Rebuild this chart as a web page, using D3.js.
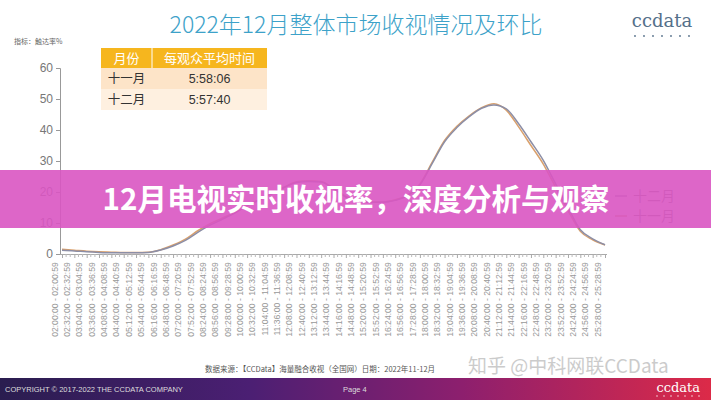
<!DOCTYPE html>
<html><head><meta charset="utf-8">
<script src="https://cdn.jsdelivr.net/npm/d3@7"></script>
<style>body{margin:0;background:#fff}svg{display:block}</style>
</head><body>
<script>
const categories = ["02:00","02:32","03:04","03:36","04:08","04:40","05:12","05:44","06:16","06:48","07:20","07:52","08:24","08:56","09:28","10:00","10:32","11:04","11:36","12:08","12:40","13:12","13:44","14:16","14:48","15:20","15:52","16:24","16:56","17:28","18:00","18:32","19:04","19:36","20:08","20:40","21:12","21:44","22:16","22:48","23:20","23:52","24:24","24:56","25:28"];
const novValues = [1.5,1.2,0.9,0.7,0.6,0.5,0.5,0.6,1.4,2.9,4.8,7.5,9.8,11.6,13.5,15.8,17.6,19.6,21.6,23.3,23.6,23.4,21.2,18.6,17.3,16.8,16.8,17.5,19.0,22.6,29.6,36.6,41.2,44.6,47.2,48.5,46.4,41.0,35.0,29.0,21.5,14.0,7.3,4.6,2.9];
const decValues = [1.2,1.0,0.7,0.5,0.4,0.4,0.4,0.5,1.3,2.6,4.4,7.0,9.3,11.2,13.2,15.5,17.4,19.4,21.4,23.1,23.4,23.2,21.0,18.4,17.2,16.7,16.7,17.3,18.8,22.3,29.2,36.2,40.8,44.3,47.0,48.1,46.8,42.0,36.2,30.2,22.6,15.0,7.8,4.9,3.0];
const yTicks = [0,10,20,30,40,50,60];
const tableRows = [["十一月","5:58:06"],["十二月","5:57:40"]];
const legendItems = [["十二月","#8c8ea6"],["十一月","#d9a06c"]];

const tickLabels = categories.map(c => `${c}:00 - ${c}:59`);

const W=711,H=400;
const svg=d3.select("body").append("svg").attr("width",W).attr("height",H)
  .style("font-family","'Liberation Sans',Arial,sans-serif");

// title
svg.append("text").attr("x",356).attr("y",33).attr("text-anchor","middle")
  .attr("font-family","'Noto Sans CJK SC',sans-serif").attr("font-weight",300)
  .attr("font-size",23).attr("fill","#3da2c9").text("2022年12月整体市场收视情况及环比");
svg.append("text").attr("x",14).attr("y",44).attr("font-size",7).attr("fill","#666")
  .attr("font-family","'Noto Sans CJK SC',sans-serif").text("指标：触达率%");
// logo
svg.append("text").attr("x",662).attr("y",27).attr("text-anchor","middle")
  .attr("font-family","'DejaVu Serif',serif").attr("font-size",18).attr("fill","#55708a").text("ccdata");
for(let k=0;k<7;k++) svg.append("circle").attr("cx",635+k*9).attr("cy",36).attr("r",0.9).attr("fill","#55708a");

const x=d3.scalePoint().domain(tickLabels).range([62,605]);
const y=d3.scaleLinear().domain([0,60]).range([254,68]);

// y axis
const ya=svg.append("g").attr("transform","translate(60,0)")
  .call(d3.axisLeft(y).tickValues(yTicks).tickSize(4).tickPadding(3));
ya.select(".domain").attr("stroke","#999");
ya.selectAll(".tick line").attr("stroke","#999");
ya.selectAll("text").attr("font-size",12).attr("fill","#777");

// x axis
const xa=svg.append("g").attr("transform","translate(0,254)")
  .call(d3.axisBottom(x).tickSize(4).tickPadding(4).tickSizeOuter(0));
xa.select(".domain").attr("stroke","#aaa").attr("d","M60,0.5H607");
xa.selectAll(".tick line").attr("stroke","#aaa");
xa.selectAll("text").attr("font-size",8.6).attr("fill","#999")
  .attr("transform","rotate(-90)").attr("text-anchor","end").attr("dx","-0.5em").attr("dy","-0.55em").attr("y",0).attr("x",-4);
// minor ticks
const step=x.step();
const minor=[];
tickLabels.forEach((t,i)=>{ if(i<tickLabels.length-1){minor.push(x(t)+step/3,x(t)+2*step/3);} });
svg.append("g").selectAll("line").data(minor).join("line")
  .attr("x1",d=>d).attr("x2",d=>d).attr("y1",254).attr("y2",257).attr("stroke","#bbb");

// lines
const line=d3.line().x((d,i)=>x(tickLabels[i])).y(d=>y(d)).curve(d3.curveMonotoneX);
svg.append("path").datum(novValues).attr("d",line).attr("fill","none").attr("stroke","#d9a06c").attr("stroke-width",1.5);
svg.append("path").datum(decValues).attr("d",line).attr("fill","none").attr("stroke","#8c8ea6").attr("stroke-width",1.5);

// legend
legendItems.forEach((d,i)=>{
  const g=svg.append("g").attr("transform",`translate(615,${201+i*20})`);
  g.append("line").attr("x1",0).attr("x2",12).attr("y1",-5).attr("y2",-5).attr("stroke",d[1]).attr("stroke-width",1.5);
  g.append("text").attr("x",18).attr("y",0).attr("font-size",14).attr("fill","#888")
    .attr("font-family","'Noto Sans CJK SC',sans-serif").text(d[0]);
});

// table
const tx=101, tw=166, c1=152;
svg.append("rect").attr("x",tx).attr("y",48).attr("width",tw).attr("height",20).attr("fill","#f6b61e");
svg.append("line").attr("x1",c1).attr("x2",c1).attr("y1",48).attr("y2",68).attr("stroke","#fff").attr("stroke-width",1);
svg.append("text").attr("x",(tx+c1)/2).attr("y",63).attr("text-anchor","middle").attr("font-size",13).attr("fill","#fff")
  .attr("font-family","'Noto Sans CJK SC',sans-serif").text("月份");
svg.append("text").attr("x",(c1+tx+tw)/2).attr("y",63).attr("text-anchor","middle").attr("font-size",13).attr("fill","#fff")
  .attr("font-family","'Noto Sans CJK SC',sans-serif").text("每观众平均时间");
tableRows.forEach((r,i)=>{
  const yy=68+i*21;
  svg.append("rect").attr("x",tx).attr("y",yy).attr("width",tw).attr("height",21).attr("fill",i===0?"#fde4c8":"#fef0e0");
  svg.append("text").attr("x",(tx+c1)/2).attr("y",yy+15).attr("text-anchor","middle").attr("font-size",12.5).attr("fill","#333")
    .attr("font-family","'Noto Sans CJK SC',sans-serif").text(r[0]);
  svg.append("text").attr("x",(c1+tx+tw)/2).attr("y",yy+15).attr("text-anchor","middle").attr("font-size",12.5).attr("fill","#333").text(r[1]);
});

// banner overlay
svg.append("rect").attr("x",0).attr("y",170).attr("width",W).attr("height",58).attr("fill","#d955c2").attr("opacity",0.9);
svg.append("text").attr("x",356).attr("y",210).attr("text-anchor","middle").attr("font-size",29.5).attr("font-weight",700)
  .attr("fill","#fff").attr("font-family","'Noto Sans CJK SC',sans-serif").text("12月电视实时收视率，深度分析与观察");

// source
svg.append("text").attr("x",205).attr("y",372).attr("font-size",7.5).attr("fill","#555")
  .attr("font-family","'Noto Sans CJK SC',sans-serif").text("数据来源：【CCData】海量融合收视（全国网）日期：2022年11-12月");
// footer
const defs=svg.append("defs");
const gr=defs.append("linearGradient").attr("id","fg");
[["0%","#2a1d4f"],["35%","#4b1f73"],["65%","#8d1f6e"],["100%","#dc2a48"]].forEach(s=>gr.append("stop").attr("offset",s[0]).attr("stop-color",s[1]));
svg.append("rect").attr("x",0).attr("y",378).attr("width",W).attr("height",22).attr("fill","url(#fg)");
svg.append("text").attr("x",5).attr("y",392).attr("font-size",7.5).attr("fill","#ddd").text("COPYRIGHT © 2017-2022 THE CCDATA COMPANY");
svg.append("text").attr("x",343).attr("y",392).attr("font-size",7.5).attr("fill","#ddd").text("Page 4");
svg.append("text").attr("x",700).attr("y",392).attr("text-anchor","end").attr("font-family","'DejaVu Serif',serif")
  .attr("font-size",13).attr("fill","#fff").text("ccdata");
for(let k=0;k<7;k++) svg.append("circle").attr("cx",657+k*7).attr("cy",396).attr("r",0.7).attr("fill","#fff");
// watermark
svg.append("text").attr("x",468).attr("y",373).attr("font-size",19).attr("fill","#999").attr("opacity",0.5)
  .attr("font-family","'Noto Sans CJK SC',sans-serif").text("知乎 @中科网联CCData");
</script>
</body></html>
